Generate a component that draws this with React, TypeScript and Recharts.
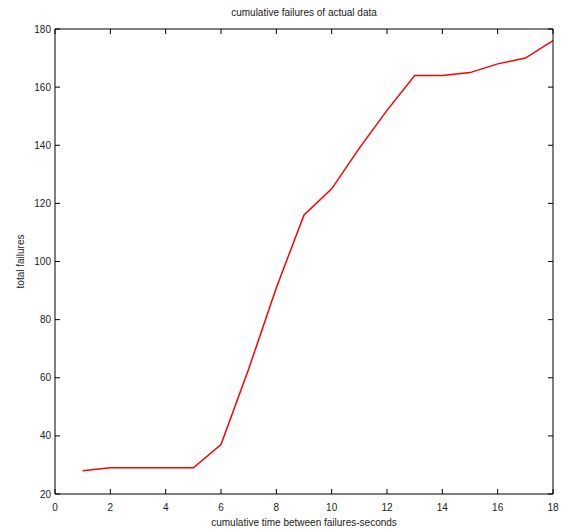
import React from 'react';
import { LineChart, Line, XAxis, YAxis } from 'recharts';

const timeSeconds = [1, 2, 3, 4, 5, 6, 7, 8, 9, 10, 11, 12, 13, 14, 15, 16, 17, 18];
const totalFailures = [28, 29, 29, 29, 29, 37, 63, 91, 116, 125, 139, 152, 164, 164, 165, 168, 170, 176];

const xTicks = [0, 2, 4, 6, 8, 10, 12, 14, 16, 18];
const yTicks = [20, 40, 60, 80, 100, 120, 140, 160, 180];

const data = timeSeconds.map((t, i) => ({ t, failures: totalFailures[i] }));

const font = { fontFamily: 'Arial, "Liberation Sans", sans-serif', fontSize: 10, fill: '#222' };

// matlab style ticks: marks point into the plot box
const BottomTick = ({ x, y, payload }: any) => (
  <g>
    <line x1={x} y1={y} x2={x} y2={y - 5} stroke="#000" />
    <text x={x} y={y + 17} textAnchor="middle" style={font}>{payload.value}</text>
  </g>
);
const TopTick = ({ x, y }: any) => <line x1={x} y1={y} x2={x} y2={y + 5} stroke="#000" />;
const LeftTick = ({ x, y, payload }: any) => (
  <g>
    <line x1={x} y1={y} x2={x + 5} y2={y} stroke="#000" />
    <text x={x - 4} y={y + 3.5} textAnchor="end" style={font}>{payload.value}</text>
  </g>
);
const RightTick = ({ x, y }: any) => <line x1={x} y1={y} x2={x - 5} y2={y} stroke="#000" />;

export default function App() {
  return (
    <div style={{ position: 'absolute', left: 0, top: 0, width: 562, height: 531 }}>
      <LineChart width={562} height={531} data={data} margin={{ top: 28, right: 8, bottom: 0, left: 0 }}>
        <XAxis
          xAxisId="bottom"
          dataKey="t"
          type="number"
          domain={[0, 18]}
          ticks={xTicks}
          height={37}
          stroke="#000"
          tickSize={0}
          tickMargin={0}
          tickLine={false}
          tick={<BottomTick />}
          label={{
            value: 'cumulative time between failures-seconds',
            position: 'insideBottom',
            offset: 5,
            style: font,
          }}
        />
        <XAxis
          xAxisId="top"
          orientation="top"
          dataKey="t"
          type="number"
          domain={[0, 18]}
          ticks={xTicks}
          height={1}
          stroke="#000"
          tickSize={0}
          tickMargin={0}
          tickLine={false}
          tick={<TopTick />}
          label={{
            value: 'cumulative failures of actual data',
            position: 'top',
            offset: 12,
            style: font,
          }}
        />
        <YAxis
          yAxisId="left"
          type="number"
          domain={[20, 180]}
          ticks={yTicks}
          width={55}
          stroke="#000"
          tickSize={0}
          tickMargin={0}
          tickLine={false}
          tick={<LeftTick />}
          label={{
            value: 'total failures',
            angle: -90,
            position: 'insideLeft',
            offset: 20,
            style: { ...font, textAnchor: 'middle' },
          }}
        />
        <YAxis
          yAxisId="right"
          orientation="right"
          type="number"
          domain={[20, 180]}
          ticks={yTicks}
          width={1}
          stroke="#000"
          tickSize={0}
          tickMargin={0}
          tickLine={false}
          tick={<RightTick />}
        />
        <Line
          xAxisId="top"
          yAxisId="right"
          dataKey="failures"
          stroke="none"
          dot={false}
          activeDot={false}
          isAnimationActive={false}
        />
        <Line
          xAxisId="bottom"
          yAxisId="left"
          dataKey="failures"
          stroke="#ff0000"
          strokeWidth={1.5}
          dot={false}
          isAnimationActive={false}
        />
      </LineChart>
    </div>
  );
}
